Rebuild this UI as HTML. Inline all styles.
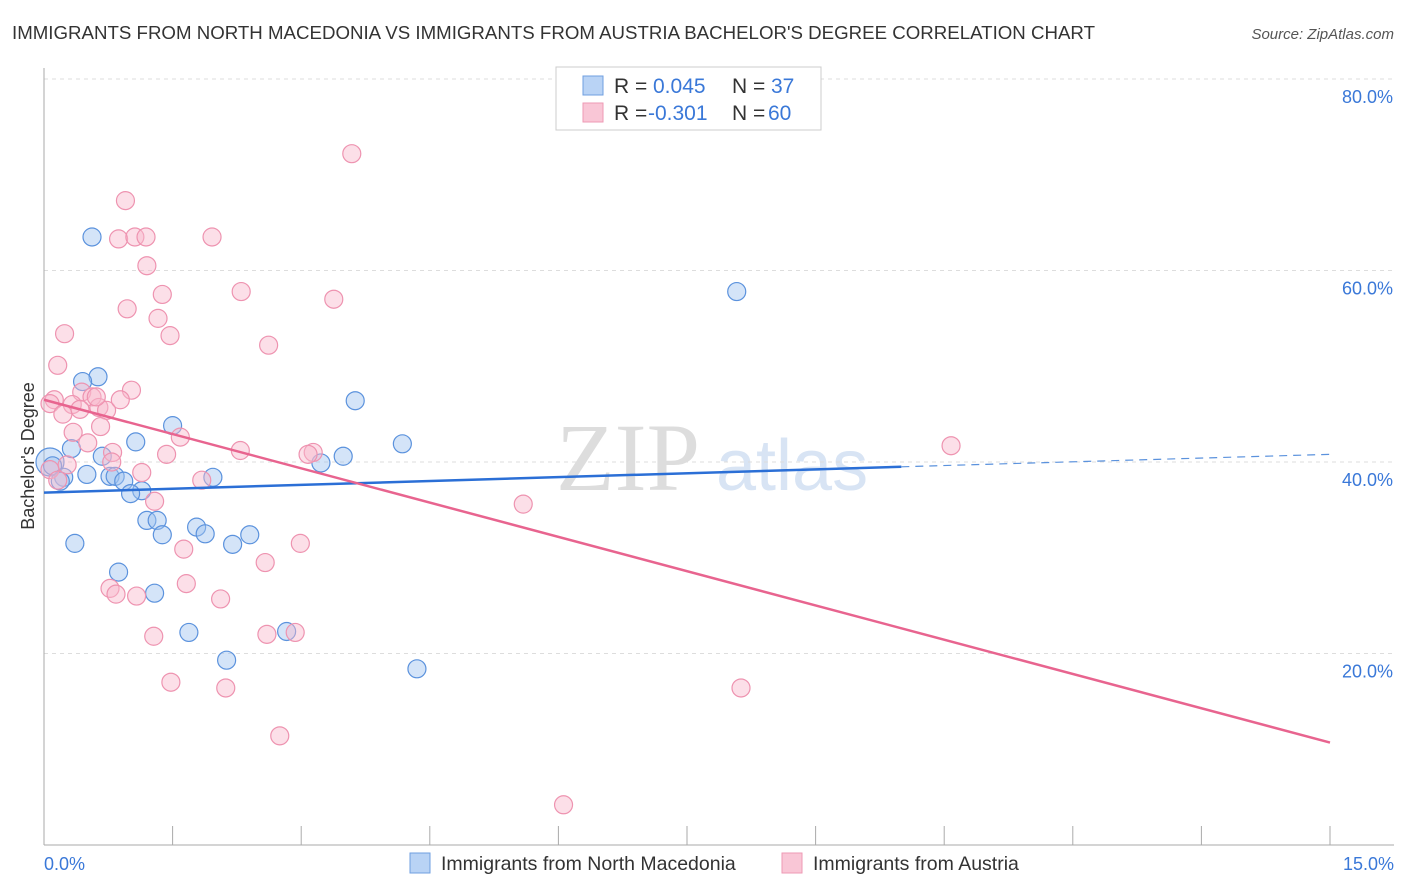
<!DOCTYPE html>
<html><head><meta charset="utf-8">
<style>
body{margin:0;background:#fff;font-family:"Liberation Sans",sans-serif;}
#wrap{position:relative;width:1406px;height:892px;overflow:hidden;}
</style></head>
<body><div id="wrap">
<svg id="svg" width="1406" height="892" xmlns="http://www.w3.org/2000/svg">
<text x="12" y="39" font-size="18" fill="#333" textLength="1083" lengthAdjust="spacingAndGlyphs">IMMIGRANTS FROM NORTH MACEDONIA VS IMMIGRANTS FROM AUSTRIA BACHELOR'S DEGREE CORRELATION CHART</text>
<text x="1394" y="39" font-size="15" fill="#555" font-style="italic" text-anchor="end">Source: ZipAtlas.com</text>
<text x="700" y="490" font-size="96" fill="#ddd" text-anchor="end" font-family="Liberation Serif">ZIP</text>
<text x="716" y="490" font-size="72" fill="#d8e4f4">atlas</text>
<text transform="translate(34,456) rotate(-90)" font-size="18" fill="#333" text-anchor="middle">Bachelor's Degree</text>
<text x="44" y="870" font-size="18" fill="#3a78d8">0.0%</text>
<text x="1394" y="870" font-size="18" fill="#3a78d8" text-anchor="end">15.0%</text>
<g id="grid"></g><g id="marks"></g>
<g>
<rect x="556" y="67" width="265" height="63" fill="#fff" stroke="#ccc"/>
<rect x="583" y="76" width="20" height="19" fill="#b9d3f5" stroke="#6f9fe0"/>
<rect x="583" y="103" width="20" height="19" fill="#f9c6d6" stroke="#ee9ab4"/>
<text x="614" y="93" font-size="21" fill="#333">R = <tspan x="653" fill="#3a78d8">0.045</tspan><tspan x="732">N = </tspan><tspan x="771" fill="#3a78d8">37</tspan></text>
<text x="614" y="120" font-size="21" fill="#333">R = <tspan x="648" fill="#3a78d8">-0.301</tspan><tspan x="732">N = </tspan><tspan x="768" fill="#3a78d8">60</tspan></text>
</g>
<g>
<rect x="410" y="853" width="20" height="20" fill="#b9d3f5" stroke="#6f9fe0"/>
<text x="441" y="870" font-size="19.5" fill="#333">Immigrants from North Macedonia</text>
<rect x="782" y="853" width="20" height="20" fill="#f9c6d6" stroke="#ee9ab4"/>
<text x="813" y="870" font-size="19.5" fill="#333">Immigrants from Austria</text>
</g>
</svg></div>
<script>
const yTicks=[20,40,60,80];
const xTicks=[0,1.5,3,4.5,6,7.5,9,10.5,12,13.5,15];
const blueX=[0.56,8.08,0.63,0.45,3.63,1.5,4.18,1.07,0.32,3.49,0.68,0.07,3.23,0.1,0.5,0.77,0.83,1.97,0.23,0.19,0.93,1.14,1.01,1.2,1.32,1.78,1.88,1.38,2.4,0.36,2.2,0.87,1.29,1.69,2.83,2.13,4.35];
const blueY=[63.5,57.8,48.9,48.4,46.4,43.8,41.9,42.1,41.4,40.6,40.6,40.0,39.9,39.6,38.7,38.5,38.5,38.4,38.4,38.0,38.0,37.0,36.7,33.9,33.9,33.2,32.5,32.4,32.4,31.5,31.4,28.5,26.3,22.2,22.3,19.3,18.4];
const blueR=[9,9,9,9,9,9,9,9,9,9,9,14,9,9,9,9,9,9,9,9,9,9,9,9,9,9,9,9,9,9,9,9,9,9,9,9,9];
const pinkX=[3.59,0.95,0.87,1.06,1.19,1.96,1.2,1.38,2.3,0.97,3.38,1.33,0.24,1.47,2.62,0.16,1.02,0.44,0.12,0.07,0.56,0.33,0.64,0.73,0.22,0.66,0.34,1.59,0.51,2.29,1.43,3.14,3.08,0.8,10.58,0.07,1.14,1.84,1.29,5.59,1.63,2.99,2.58,1.66,0.77,1.08,2.06,0.84,2.6,2.93,1.28,1.48,2.12,8.13,2.75,6.06,0.42,0.61,0.89,0.27,0.79,0.16];
const pinkY=[72.2,67.3,63.3,63.5,63.5,63.5,60.5,57.5,57.8,56.0,57.0,55.0,53.4,53.2,52.2,50.1,47.5,47.3,46.5,46.1,46.8,46.0,45.7,45.4,45.0,43.7,43.1,42.6,42.0,41.2,40.8,41.0,40.8,41.0,41.7,39.2,38.9,38.1,35.9,35.6,30.9,31.5,29.5,27.3,26.8,26.0,25.7,26.2,22.0,22.2,21.8,17.0,16.4,16.4,11.4,4.2,45.5,46.8,46.5,39.7,40.0,38.1];
const blueLine=[[0,36.8],[10,39.5]];
const blueDash=[[10,39.5],[15,40.8]];
const pinkLine=[[0,46.5],[15,10.7]];
const X0=44,X1=1330,Y0=845,YPX=9.575;
const sx=v=>X0+(X1-X0)*v/15;
const sy=v=>Y0-v*YPX;
const NS="http://www.w3.org/2000/svg";
const grid=document.getElementById('grid'),marks=document.getElementById('marks');
function mk(tag,attrs,parent){const e=document.createElementNS(NS,tag);for(const k in attrs)e.setAttribute(k,attrs[k]);parent.appendChild(e);return e;}
for(const t of yTicks){
 const l=mk('line',{x1:44,x2:1394,y1:sy(t),y2:sy(t),stroke:'#ddd','stroke-dasharray':'4,4'},grid);
 
 
 const tx=mk('text',{x:1393,y:sy(t)+24,'font-size':18,fill:'#3a78d8','text-anchor':'end'},grid);
 tx.textContent=t.toFixed(1)+'%';
 
 
}
mk('line',{x1:44,x2:44,y1:68,y2:845,stroke:'#aaa'},grid);
mk('line',{x1:44,x2:1394,y1:845,y2:845,stroke:'#aaa'},grid);
for(const t of xTicks){
 const l=mk('line',{x1:sx(t),x2:sx(t),y1:826,y2:845,stroke:'#aaa'},grid);
 
 
}
for(let i=0;i<blueX.length;i++){
 const c=mk('circle',{cx:sx(blueX[i]),cy:sy(blueY[i]),r:blueR[i],fill:'rgba(160,195,240,0.45)',stroke:'#5b92dd','stroke-width':1.2},marks);
 
 
}
for(let i=0;i<pinkX.length;i++){
 const c=mk('circle',{cx:sx(pinkX[i]),cy:sy(pinkY[i]),r:9,fill:'rgba(248,185,205,0.45)',stroke:'#ee93b0','stroke-width':1.2},marks);
 
 
}
const bl=mk('line',{x1:sx(blueLine[0][0]),y1:sy(blueLine[0][1]),x2:sx(blueLine[1][0]),y2:sy(blueLine[1][1]),stroke:'#2b6fd6','stroke-width':2.5},marks);


const bd=mk('line',{x1:sx(blueDash[0][0]),y1:sy(blueDash[0][1]),x2:sx(blueDash[1][0]),y2:sy(blueDash[1][1]),stroke:'#5b92dd','stroke-width':1.2,'stroke-dasharray':'8,6'},marks);


const pl=mk('line',{x1:sx(pinkLine[0][0]),y1:sy(pinkLine[0][1]),x2:sx(pinkLine[1][0]),y2:sy(pinkLine[1][1]),stroke:'#e8648f','stroke-width':2.5},marks);


</script>
</body></html>
